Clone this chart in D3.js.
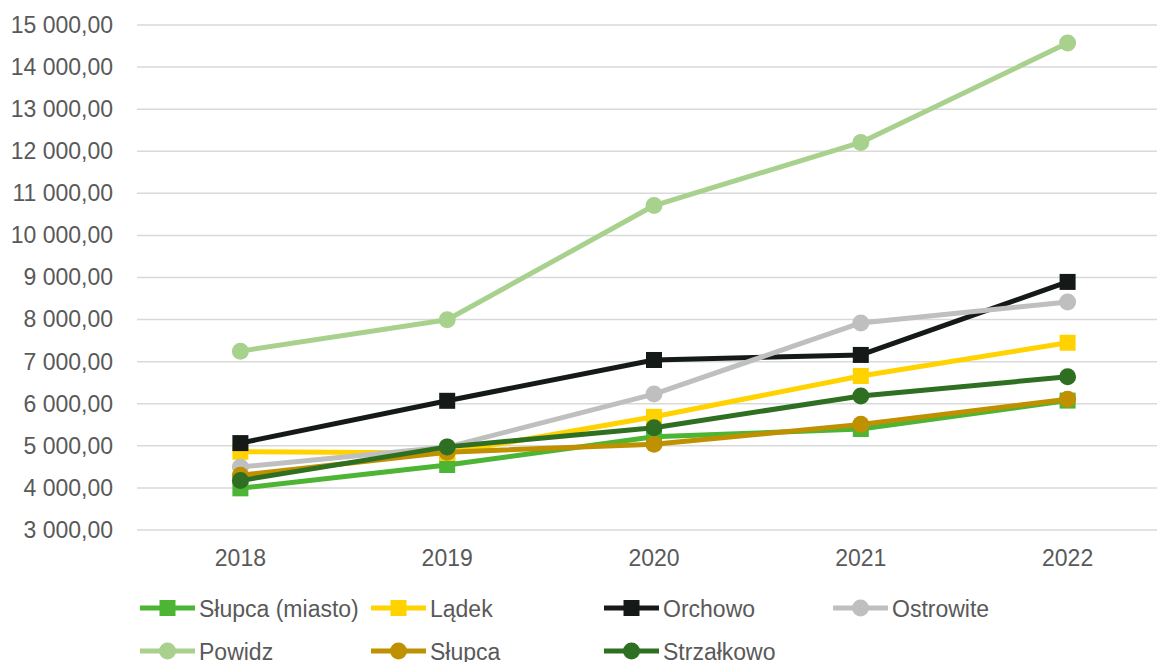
<!DOCTYPE html>
<html>
<head>
<meta charset="utf-8">
<script src="https://cdn.jsdelivr.net/npm/d3@7"></script>
<style>
body { margin: 0; background: #fff; }
svg { display: block; font-family: "Liberation Sans", Arial, sans-serif; }
</style>
</head>
<body>
<svg width="1157" height="662"></svg>
<script>
var years = ["2018", "2019", "2020", "2021", "2022"];
var yTicks = [3000, 4000, 5000, 6000, 7000, 8000, 9000, 10000, 11000, 12000, 13000, 14000, 15000];

var slupcaMiasto = [3990, 4545, 5215, 5400, 6075];
var ladek = [4860, 4830, 5690, 6660, 7450];
var orchowo = [5065, 6070, 7040, 7160, 8895];
var ostrowite = [4495, 4970, 6230, 7920, 8420];
var powidz = [7250, 7995, 10710, 12210, 14570];
var slupca = [4300, 4850, 5035, 5510, 6105];
var strzalkowo = [4175, 4975, 5430, 6185, 6640];

var series = [
  {name: "Słupca (miasto)", values: slupcaMiasto, color: "#4cb534", shape: "square"},
  {name: "Lądek", values: ladek, color: "#ffd200", shape: "square"},
  {name: "Orchowo", values: orchowo, color: "#151a19", shape: "square"},
  {name: "Ostrowite", values: ostrowite, color: "#bfbfbf", shape: "circle"},
  {name: "Powidz", values: powidz, color: "#a9d18e", shape: "circle"},
  {name: "Słupca", values: slupca, color: "#bf9000", shape: "circle"},
  {name: "Strzałkowo", values: strzalkowo, color: "#2f6f22", shape: "circle"}
];

var svg = d3.select("svg");

var x = d3.scaleBand().domain(years).range([137, 1171]);
var y = d3.scaleLinear().domain([3000, 15000]).range([530, 25]);

function fmt(v) {
  var s = d3.format(",.2f")(v);
  return s.replace(/,/g, " ").replace(".", ",");
}

// grid
svg.append("g")
  .selectAll("line")
  .data(yTicks)
  .enter().append("line")
  .attr("x1", 137).attr("x2", 1157)
  .attr("y1", function(d) { return y(d); })
  .attr("y2", function(d) { return y(d); })
  .attr("stroke", "#d9d9d9")
  .attr("stroke-width", 1.5);

// y labels
var yAxis = svg.append("g")
  .attr("transform", "translate(126,0)")
  .call(d3.axisLeft(y).tickValues(yTicks).tickFormat(fmt).tickSize(0).tickPadding(13));
yAxis.select(".domain").remove();
yAxis.selectAll("text")
  .attr("fill", "#595959")
  .style("font-size", "23px")
  .style("font-family", "Liberation Sans, Arial, sans-serif");

// x labels
var xAxis = svg.append("g")
  .attr("transform", "translate(0,546)")
  .call(d3.axisBottom(x).tickSize(0).tickPadding(4));
xAxis.select(".domain").remove();
xAxis.selectAll("text")
  .attr("fill", "#595959")
  .style("font-size", "23px")
  .style("font-family", "Liberation Sans, Arial, sans-serif");

var line = d3.line()
  .x(function(d, i) { return x(years[i]) + x.bandwidth() / 2; })
  .y(function(d) { return y(d); });

function drawMarker(g, s, cx, cy) {
  if (s.shape === "square") {
    g.append("rect")
      .attr("x", cx - 8).attr("y", cy - 8)
      .attr("width", 16).attr("height", 16)
      .attr("fill", s.color);
  } else {
    g.append("circle")
      .attr("cx", cx).attr("cy", cy).attr("r", 8.5)
      .attr("fill", s.color);
  }
}

series.forEach(function(s) {
  var g = svg.append("g");
  g.append("path")
    .datum(s.values)
    .attr("d", line)
    .attr("fill", "none")
    .attr("stroke", s.color)
    .attr("stroke-width", 5)
    .attr("stroke-linejoin", "round");
  s.values.forEach(function(v, i) {
    drawMarker(g, s, x(years[i]) + x.bandwidth() / 2, y(v));
  });
});

// legend
var legendX = [140, 371, 604, 833];
var legendY = [608, 651];
series.forEach(function(s, i) {
  var lx = legendX[i % 4], ly = legendY[Math.floor(i / 4)];
  var g = svg.append("g");
  g.append("line")
    .attr("x1", lx).attr("x2", lx + 55)
    .attr("y1", ly).attr("y2", ly)
    .attr("stroke", s.color)
    .attr("stroke-width", 5);
  drawMarker(g, s, lx + 27.5, ly);
  g.append("text")
    .attr("x", lx + 59).attr("y", ly + 8.5)
    .attr("fill", "#595959")
    .style("font-size", "23px")
    .text(s.name);
});
</script>
</body>
</html>
